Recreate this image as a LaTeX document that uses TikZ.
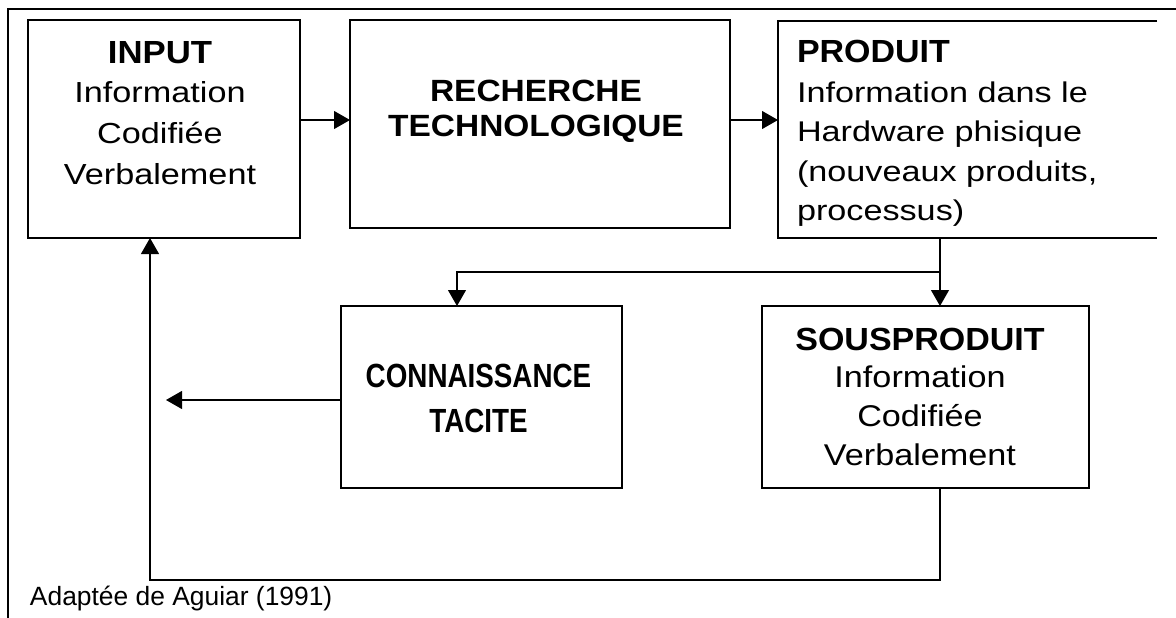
\documentclass[tikz,border=0pt]{standalone}
\usepackage{fontspec}
\setmainfont{Liberation Sans}
\usetikzlibrary{arrows.meta}
\newcommand{\btext}[5]{\scalebox{#1}[1]{\fontsize{#2}{#3}\selectfont\begin{tabular}[t]{@{}#4@{}}#5\end{tabular}}}
\newcommand{\hdr}[3]{{\fontsize{#1}{#1}\selectfont\bfseries\scalebox{#2}[1]{#3}}}
\begin{document}
\begin{tikzpicture}[x=1pt,y=-1pt,
  box/.style={draw, line width=1.8pt, inner sep=0pt, outer sep=0pt, anchor=north west},
  openbox/.style={inner sep=0pt, outer sep=0pt, anchor=north west},
  boxline/.style={line width=1.8pt},
  frame/.style={line width=1.8pt},
  arr/.style={line width=1.1pt, -{Triangle[length=16pt,width=18pt]}},
  txt/.style={inner sep=0pt, outer sep=0pt}]
\useasboundingbox (0,0) rectangle (1176,618);
% outer frame
\draw[frame] (1176,9) -- (8,9) -- (8,618);
% boxes
\node[box, minimum width=272pt, minimum height=218pt] (in) at (28,20) {};
\node[box, minimum width=380pt, minimum height=208pt] (rec) at (350,20) {};
\node[openbox, minimum width=379pt, minimum height=217pt] (prod) at (778,21) {};
\draw[boxline] (prod.north east) -- (prod.north west) -- (prod.south west) -- (prod.south east);
\node[box, minimum width=281pt, minimum height=182pt] (cn) at (341,306) {};
\node[box, minimum width=327pt, minimum height=182pt] (sous) at (762,306) {};
% texts
\node[txt, anchor=base] (tin) at (160,64) {\btext{1.18}{29}{41}{c}{\hdr{32}{0.92}{INPUT}\\[-2pt] Information\\ Codifiée\\ Verbalement}};
\node[txt, anchor=base] (trec) at (536,102) {\btext{1.09}{30.7}{35}{c}{\bfseries RECHERCHE\\ \bfseries TECHNOLOGIQUE}};
\node[txt, anchor=base west] (tprod) at (797,63) {\btext{1.2}{28.5}{39.5}{l}{\hdr{32}{0.885}{PRODUIT}\\ Information dans le\\ Hardware phisique\\ (nouveaux produits,\\ processus)}};
\node[txt, anchor=base] (tcn) at (478.5,387) {\btext{0.83}{33.5}{45}{c}{\bfseries CONNAISSANCE\\ \bfseries TACITE}};
\node[txt, anchor=base] (tsous) at (920,350) {\btext{1.14}{30}{39}{c}{\hdr{32}{0.932}{SOUSPRODUIT}\\[-2pt] Information\\ Codifiée\\ Verbalement}};
\node[txt, anchor=base west, font=\fontsize{26.4}{30}\selectfont] (cap) at (30,605) {Adaptée de Aguiar (1991)};
% connectors
\coordinate (ya) at (0,120);
\draw[arr] (in.east |- ya) -- (rec.west |- ya);
\draw[arr] (rec.east |- ya) -- (prod.west |- ya);
\coordinate (px) at (940,0);
\coordinate (yb) at (0,272);
\draw[arr] (prod.south -| px) -- (sous.north -| px);
\coordinate (cx) at (457,0);
\draw[arr] (px |- yb) -- (cx |- yb) -- (cn.north -| cx);
\coordinate (yc) at (0,400);
\coordinate (tip) at (166,400);
\draw[arr] (cn.west |- yc) -- (tip);
\coordinate (yd) at (0,580);
\coordinate (lx) at (150,0);
\draw[arr] (sous.south -| px) -- (px |- yd) -- (lx |- yd) -- (in.south -| lx);
\end{tikzpicture}
\end{document}
